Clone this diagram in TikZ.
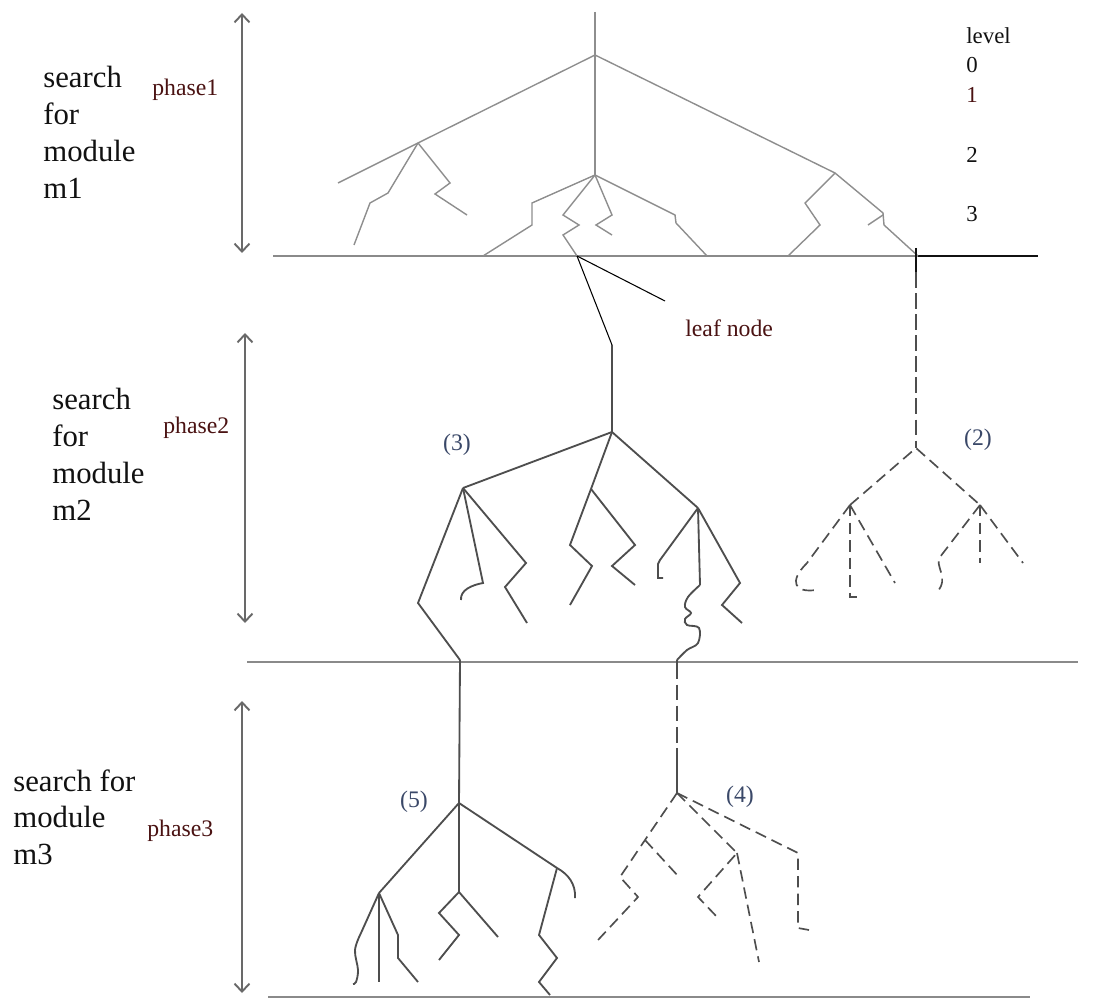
\documentclass[tikz,border=0pt]{standalone}
\usepackage{fontspec}
\setmainfont{Liberation Serif}
\newfontfamily\labelserif{Liberation Serif}
\usetikzlibrary{arrows.meta}
\definecolor{ink}{HTML}{111111}
\definecolor{maroon}{HTML}{4A1212}
\definecolor{tagblue}{HTML}{3A4868}
\definecolor{oldgray}{HTML}{8E8E8E}
\definecolor{branch}{HTML}{4E4E4E}
\definecolor{rulegray}{HTML}{8A8A8A}
\tikzset{
  oldtree/.style={draw=oldgray,line width=0.8pt},
  newtree/.style={draw=branch,line width=1.05pt},
  dashtree/.style={draw=branch,line width=0.95pt,dash pattern=on 6.5pt off 3.5pt},
  floor/.style={draw=rulegray,line width=1.4pt},
  phasearr/.style={{Straight Barb[length=1.6mm,width=3mm]}-{Straight Barb[length=1.6mm,width=3mm]},
                   draw=branch!85,line width=1.1pt},
  pointer/.style={draw=black,line width=0.6pt},
  bigtxt/.style={font=\labelserif\fontsize{17.5}{21}\selectfont,align=left,anchor=north west,
                 inner sep=0pt,text=ink},
  phasetxt/.style={font=\labelserif\fontsize{13.5}{16}\selectfont,inner sep=0pt,anchor=west,text=maroon},
  lvltxt/.style={font=\labelserif\fontsize{13}{15}\selectfont,inner sep=0pt,anchor=west,text=ink},
  tagtxt/.style={font=\labelserif\fontsize{13.5}{16}\selectfont,inner sep=0pt,text=tagblue}
}

\begin{document}
\begin{tikzpicture}[x=0.02cm,y=-0.02cm]
    \path[use as bounding box] (0,0) rectangle (1104,999);
    \node[bigtxt] (m1txt) at (43,66) {search\\for\\module\\m1};
    \node[bigtxt] (m2txt) at (52,388) {search\\for\\module\\m2};
    \node[bigtxt] (m3txt) at (13,769) {search for\\module\\m3};
    \node[phasetxt] (ph1) at (152,90) {phase1};
    \node[phasetxt] (ph2) at (163,428) {phase2};
    \node[phasetxt] (ph3) at (147,831) {phase3};
    \node[lvltxt] (lvl) at (966,36) {level};
    \node[lvltxt] (lvl0) at (966,65) {0};
    \node[lvltxt,text=maroon] (lvl1) at (966,95) {1};
    \node[lvltxt] (lvl2) at (966,155) {2};
    \node[lvltxt] (lvl3) at (966,214) {3};
    \node[phasetxt] (leaftxt) at (685,328) {leaf node};
    \node[tagtxt] (tag3) at (457,445) {(3)};
    \node[tagtxt] (tag2) at (978,440) {(2)};
    \node[tagtxt] (tag5) at (414,802) {(5)};
    \node[tagtxt] (tag4) at (740,797) {(4)};

    \coordinate (a1top) at (242,13);  \coordinate (a1bot) at (242,253);
    \coordinate (a2top) at (245,333); \coordinate (a2bot) at (245,623);
    \coordinate (a3top) at (242,701); \coordinate (a3bot) at (242,993);
    \draw[phasearr] (a1top) -- (a1bot);
    \draw[phasearr] (a2top) -- (a2bot);
    \draw[phasearr] (a3top) -- (a3bot);

    \coordinate (f1a) at (273,256); \coordinate (f1b) at (918,256); \coordinate (f1c) at (1038,256);
    \coordinate (f2a) at (247,662); \coordinate (f2b) at (1078,662);
    \coordinate (f3a) at (268,997); \coordinate (f3b) at (1030,997);
    \draw[floor] (f1a) -- (f1b);
    \draw[draw=ink,line width=0.9pt] (f1b) -- (f1c);
    \draw[floor] (f2a) -- (f2b);
    \draw[floor] (f3a) -- (f3b);

    \coordinate (t1top) at (595,12);
    \coordinate (t1apex) at (595,55);
    \coordinate (t1mid) at (595,175);
    \coordinate (t1left) at (418,143);
    \coordinate (t1right) at (835,173);
    \coordinate (leaf) at (577,256);
    \draw[oldtree] (t1top) -- (t1mid);
    \draw[oldtree] (338,183) -- (t1left) -- (t1apex) -- (t1right) -- (883,213) -- (884,225) -- (f1b);
    \draw[oldtree] (868,225) -- (883,215);
    \draw[oldtree] (t1right) -- (805,203) -- (820,225) -- (788,256);
    \draw[oldtree] (t1left) -- (388,193) -- (370,203) -- (354,245);
    \draw[oldtree] (t1left) -- (450,183) -- (435,194) -- (467,215);
    \draw[oldtree] (t1mid) -- (532,203) -- (532,225) -- (483,256);
    \draw[oldtree] (t1mid) -- (563,215) -- (579,225) -- (563,235) -- (leaf);
    \draw[oldtree] (t1mid) -- (612,215) -- (596,225) -- (612,235);
    \draw[oldtree] (t1mid) -- (675,215) -- (676,223) -- (707,256);

    \coordinate (leafptr) at (665,301);
    \coordinate (t3top) at (612,345);
    \draw[pointer] (leaf) -- (leafptr);
    \draw[pointer] (leaf) -- (t3top);

    \coordinate (t3root) at (612,432);
    \coordinate (t3a) at (463,488);
    \coordinate (t3b) at (591,489);
    \coordinate (t3c) at (698,508);
    \coordinate (t3low) at (460,660);
    \coordinate (t3wig) at (677,660);
    \draw[newtree] (t3top) -- (t3root);
    \draw[newtree] (t3a) -- (t3root) -- (t3c);
    \draw[newtree] (t3root) -- (t3b);
    \draw[newtree] (t3b) -- (570,545) -- (592,566) -- (570,605);
    \draw[newtree] (t3b) -- (635,545) -- (612,566) -- (635,585);
    \draw[newtree] (t3a) -- (418,603) -- (t3low);
    \draw[newtree] (t3a) -- (483,583) .. controls (472,585) and (460,590) .. (461,600);
    \draw[newtree] (t3a) -- (526,563) -- (505,587) -- (527,623);
    \draw[newtree] (t3c) -- (660,560) -- (658,564) -- (658,578) -- (663,578);
    \draw[newtree] (t3c) -- (700,585);
    \draw[newtree] plot[smooth,tension=0.6] coordinates {(700,585) (688,597) (685,607) (691,613)
      (685,619) (687,625) (699,628) (698,643) (687,650) (t3wig)};
    \draw[newtree] (t3c) -- (740,583) -- (722,605) -- (742,623);

    \coordinate (t2tick) at (916,248);
    \coordinate (t2top) at (916,272);
    \coordinate (t2root) at (916,448);
    \coordinate (t2l) at (850,505);
    \coordinate (t2r) at (980,505);
    \draw[draw=ink,line width=1pt] (t2tick) -- (t2top);
    \draw[dashtree,dash pattern=on 9pt off 3pt] (t2top) -- (t2root);
    \draw[dashtree] (t2l) -- (t2root) -- (t2r);
    \draw[dashtree] (t2l) -- (807,563) .. controls (788,582) and (795,593) .. (816,590);
    \draw[dashtree] (t2l) -- (850,597) -- (857,597);
    \draw[dashtree] (t2l) -- (895,583);
    \draw[dashtree] (t2r) -- (940,557) .. controls (934,566) and (950,578) .. (937,592);
    \draw[dashtree] (t2r) -- (980,563);
    \draw[dashtree] (t2r) -- (1023,563);

    \coordinate (t5root) at (459,803);
    \coordinate (t5l) at (379,893);
    \coordinate (t5m) at (459,892);
    \coordinate (t5r) at (557,868);
    \draw[newtree] (t3low) -- (t5root) -- (t5m);
    \draw[newtree] (t5l) -- (t5root) -- (t5r);
    \draw[newtree] (t5m) -- (439,913) -- (459,935) -- (439,960);
    \draw[newtree] (t5m) -- (498,937);
    \draw[newtree] (t5r) .. controls (568,874) and (576,884) .. (575,898);
    \draw[newtree] (t5r) -- (539,935) -- (557,958) -- (539,982) -- (550,995);
    \draw[newtree] (t5l) -- (361,933);
    \draw[newtree] plot[smooth,tension=0.6] coordinates {(361,933) (355,950) (358,970) (356,982) (353,984)};
    \draw[newtree] (t5l) -- (379,982);
    \draw[newtree] (t5l) -- (398,935) -- (398,958) -- (418,982);

    \coordinate (t4root) at (677,793);
    \coordinate (t4a) at (645,840);
    \coordinate (t4m) at (737,853);
    \coordinate (t4r) at (798,853);
    \draw[newtree,dash pattern=on 11pt off 3pt on 9pt off 3pt on 9pt off 3pt on 9pt off 3pt on 30pt off 0.1pt]
      (t3wig) -- (t4root);
    \draw[dashtree] (t4root) -- (t4a) -- (620,877) -- (638,897) -- (598,940);
    \draw[dashtree] (t4a) -- (679,877);
    \draw[dashtree] (t4root) -- (t4m) -- (698,897) -- (718,918);
    \draw[dashtree] (t4m) -- (759,962);
    \draw[dashtree] (t4root) -- (t4r) -- (798,928) -- (809,930);
\end{tikzpicture}
\end{document}
